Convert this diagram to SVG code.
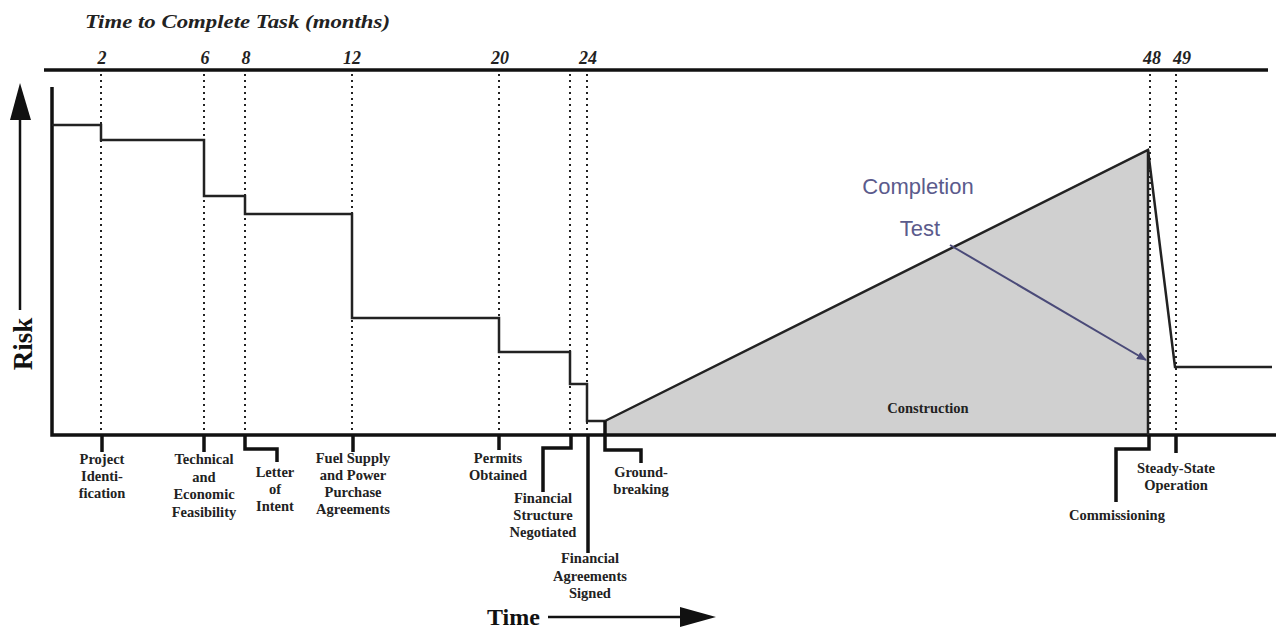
<svg xmlns="http://www.w3.org/2000/svg" width="1278" height="628" viewBox="0 0 1278 628">
<style>
.lbl{font-family:"Liberation Serif","Times New Roman",serif;font-weight:bold;font-size:14.5px;fill:#222;text-anchor:middle}
.num{font-family:"Liberation Serif","Times New Roman",serif;font-weight:bold;font-style:italic;font-size:18px;fill:#222;text-anchor:middle}
.dot{stroke:#222;stroke-width:2;stroke-dasharray:2 4;fill:none}
.step{stroke:#222;stroke-width:2.5;fill:none}
.axis{stroke:#111;stroke-width:3.5;fill:none}
.con{stroke:#111;stroke-width:3.5;fill:none}
.blue{font-family:"Liberation Sans",Arial,sans-serif;font-size:22px;fill:#5b5b8c;text-anchor:middle}
</style>
<defs>
<marker id="bh" markerWidth="10" markerHeight="8" refX="9" refY="4" orient="auto" markerUnits="userSpaceOnUse">
<path d="M0,0 L10,4 L0,8 Z" fill="#4a4a78"/>
</marker>
</defs>
<rect width="1278" height="628" fill="#fff"/>

<g id="title">
<text x="85" y="28" font-family="Liberation Serif,serif" font-weight="bold" font-style="italic" font-size="19" fill="#222" textLength="305" lengthAdjust="spacingAndGlyphs">Time to Complete Task (months)</text>
</g>

<g id="months">
<text class="num" x="102" y="64">2</text>
<text class="num" x="205" y="64">6</text>
<text class="num" x="246" y="64">8</text>
<text class="num" x="352" y="64">12</text>
<text class="num" x="500" y="64">20</text>
<text class="num" x="588" y="64">24</text>
<text class="num" x="1152" y="64">48</text>
<text class="num" x="1182" y="64">49</text>
</g>

<g id="construction">
<polygon points="605,421 1148,150 1148,435 605,435" fill="#d0d0d0"/>
<text class="lbl" x="928" y="413">Construction</text>
</g>

<g id="gridlines">
<line class="dot" x1="101" y1="74" x2="101" y2="433"/>
<line class="dot" x1="204" y1="74" x2="204" y2="433"/>
<line class="dot" x1="245" y1="74" x2="245" y2="433"/>
<line class="dot" x1="352" y1="74" x2="352" y2="433"/>
<line class="dot" x1="499" y1="74" x2="499" y2="433"/>
<line class="dot" x1="570" y1="74" x2="570" y2="433"/>
<line class="dot" x1="587" y1="74" x2="587" y2="433"/>
<line class="dot" x1="1150" y1="74" x2="1150" y2="433"/>
<line class="dot" x1="1176" y1="74" x2="1176" y2="433"/>
</g>

<g id="axes">
<line class="axis" x1="44" y1="70" x2="1268" y2="70" stroke-width="3"/>
<path class="axis" d="M52,87 V435 H1276"/>
<line x1="20" y1="310" x2="20" y2="116" stroke="#111" stroke-width="2.5"/>
<polygon points="10,120 20,83 31,120" fill="#111"/>
<text transform="translate(32,344) rotate(-90)" font-family="Liberation Serif,serif" font-weight="bold" font-size="27" fill="#111" text-anchor="middle">Risk</text>
<text x="487" y="625" font-family="Liberation Serif,serif" font-weight="bold" font-size="24" fill="#111">Time</text>
<line x1="548" y1="617" x2="684" y2="617" stroke="#111" stroke-width="2.5"/>
<polygon points="680,607 716,617 680,627" fill="#111"/>
</g>

<g id="risk-curve">
<path class="step" d="M52,125 H101 V140 H204 V196 H245 V214 H352 V318 H499 V352 H570 V384 H587 V421 H605"/>
<path class="step" d="M605,421 L1148,150 L1175,367 H1272"/>
<line class="step" x1="1148" y1="150" x2="1148" y2="435"/>
</g>

<g id="connectors">
<path class="con" d="M102,435 V452"/>
<path class="con" d="M204,435 V452"/>
<path class="con" d="M245,435 V449 H277 V462"/>
<path class="con" d="M353,435 V452"/>
<path class="con" d="M499,435 V450" stroke-width="3"/>
<path class="con" d="M571,435 V448 H543 V492"/>
<path class="con" d="M588,435 V553" stroke-width="2.5"/>
<path class="con" d="M605,421 V450 H641 V463"/>
<path class="con" d="M1149,435 V449 H1116 V502" stroke-width="4"/>
<path class="con" d="M1176,435 V453" stroke-width="3"/>
</g>

<g id="completion-test">
<text class="blue" x="918" y="194">Completion</text>
<text class="blue" x="920" y="236">Test</text>
<line x1="950" y1="245" x2="1146" y2="360" stroke="#4a4a78" stroke-width="2" marker-end="url(#bh)"/>
</g>

<g id="project-identification"><text class="lbl" x="102" y="464">Project<tspan x="102" dy="17">Identi-</tspan><tspan x="102" dy="17">fication</tspan></text></g>
<g id="technical-feasibility"><text class="lbl" x="204" y="464">Technical<tspan x="204" dy="17.5">and</tspan><tspan x="204" dy="17.5">Economic</tspan><tspan x="204" dy="17.5">Feasibility</tspan></text></g>
<g id="letter-of-intent"><text class="lbl" x="275" y="477">Letter<tspan x="275" dy="17">of</tspan><tspan x="275" dy="17">Intent</tspan></text></g>
<g id="fuel-supply"><text class="lbl" x="353" y="463">Fuel Supply<tspan x="353" dy="17">and Power</tspan><tspan x="353" dy="17">Purchase</tspan><tspan x="353" dy="17">Agreements</tspan></text></g>
<g id="permits-obtained"><text class="lbl" x="498" y="463">Permits<tspan x="498" dy="16.5">Obtained</tspan></text></g>
<g id="financial-structure"><text class="lbl" x="543" y="503">Financial<tspan x="543" dy="17">Structure</tspan><tspan x="543" dy="17">Negotiated</tspan></text></g>
<g id="financial-agreements"><text class="lbl" x="590" y="563">Financial<tspan x="590" dy="17.5">Agreements</tspan><tspan x="590" dy="17.5">Signed</tspan></text></g>
<g id="groundbreaking"><text class="lbl" x="641" y="477">Ground-<tspan x="641" dy="16.5">breaking</tspan></text></g>
<g id="commissioning"><text class="lbl" x="1117" y="520">Commissioning</text></g>
<g id="steady-state"><text class="lbl" x="1176" y="473">Steady-State<tspan x="1176" dy="17">Operation</tspan></text></g>
</svg>
